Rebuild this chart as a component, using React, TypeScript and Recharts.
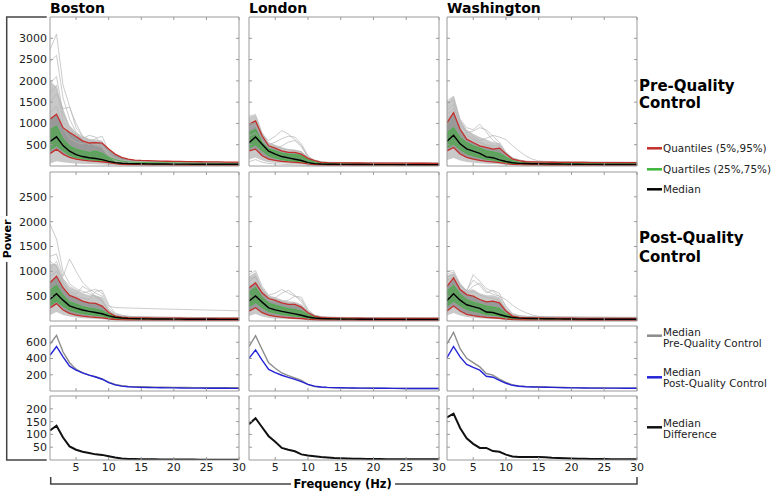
import React from "react";
import { ComposedChart, Area, Line, XAxis, YAxis } from "recharts";

// frequency bins (Hz)
const freqs = [1, 2, 3, 4, 5, 6, 7, 8, 9, 10, 11, 12, 13, 14, 15, 16, 17, 18, 19, 20, 21, 22, 23, 24, 25, 26, 27, 28, 29, 30];
const xTicks = [5, 10, 15, 20, 25, 30];
const cities = ["Boston", "London", "Washington"];

// ---- Boston, pre-QC
const bosPreMed = [575, 685, 480, 348, 268, 222, 195, 175, 150, 108, 80, 64, 57, 54, 52, 50, 48, 47, 46, 45, 44, 43, 42, 42, 41, 41, 40, 40, 40, 40];
const bosPreQ95 = [1100, 1215, 900, 786, 693, 590, 540, 550, 535, 400, 280, 205, 160, 140, 130, 125, 120, 115, 112, 110, 108, 105, 102, 100, 98, 96, 95, 93, 92, 90];
const bosPreQ05 = [290, 395, 280, 200, 160, 140, 120, 110, 100, 78, 55, 40, 35, 32, 30, 28, 27, 26, 25, 24, 24, 23, 22, 22, 21, 21, 20, 20, 20, 20];
const bosPreQ75 = [850, 940, 640, 475, 395, 355, 320, 350, 300, 210, 150, 115, 95, 88, 84, 80, 78, 76, 74, 72, 70, 69, 68, 67, 66, 65, 64, 63, 62, 62];
const bosPreQ25 = [380, 480, 360, 250, 200, 170, 150, 135, 120, 85, 62, 48, 44, 42, 40, 38, 37, 36, 35, 34, 33, 33, 32, 32, 31, 31, 30, 30, 30, 30];
const bosPreHi = [2000, 1850, 1350, 950, 800, 700, 640, 620, 600, 330, 190, 150, 135, 125, 120, 115, 112, 110, 108, 106, 104, 102, 100, 99, 98, 97, 96, 95, 94, 93];
const bosPreLo = [60, 110, 90, 70, 60, 50, 45, 40, 35, 25, 18, 14, 12, 11, 10, 10, 9, 9, 8, 8, 8, 7, 7, 7, 7, 6, 6, 6, 6, 6];
const bosPreTraces = [
  [2730, 3100, 1900, 1400, 900, 700, 600, 520, 480, 250, 140, 110, 95, 90, 88, 85, 82, 80, 78, 76, 75, 74, 72, 71, 70, 70, 69, 68, 68, 67],
  [2450, 2600, 1600, 1100, 800, 620, 560, 500, 520, 300, 150, 120, 100, 92, 88, 85, 83, 80, 78, 76, 74, 73, 72, 70, 70, 69, 68, 67, 66, 66],
  [1500, 1700, 1350, 1380, 1000, 700, 550, 480, 450, 260, 130, 100, 90, 85, 80, 78, 76, 74, 72, 70, 69, 68, 67, 66, 65, 64, 63, 62, 62, 61],
  [1950, 2100, 1250, 900, 700, 650, 720, 680, 500, 280, 160, 130, 115, 110, 105, 100, 98, 96, 94, 92, 90, 88, 86, 85, 84, 83, 82, 81, 80, 80],
  [1700, 1900, 1050, 800, 750, 600, 500, 650, 700, 350, 200, 140, 120, 110, 105, 100, 97, 95, 93, 91, 90, 88, 87, 86, 85, 84, 83, 82, 81, 80],
  [1250, 1400, 900, 650, 560, 520, 600, 560, 420, 220, 120, 90, 80, 75, 72, 70, 68, 66, 64, 63, 62, 61, 60, 59, 58, 58, 57, 56, 56, 55],
];

// ---- Boston, post-QC
const bosPostMed = [440, 548, 420, 306, 258, 222, 195, 172, 145, 102, 75, 60, 52, 48, 45, 43, 41, 40, 39, 38, 37, 36, 35, 35, 34, 34, 33, 33, 32, 32];
const bosPostQ95 = [770, 900, 670, 515, 465, 400, 365, 355, 300, 170, 100, 78, 68, 64, 62, 60, 59, 58, 57, 56, 55, 54, 54, 53, 53, 52, 52, 51, 51, 50];
const bosPostQ05 = [265, 350, 220, 155, 120, 100, 85, 75, 65, 45, 30, 23, 20, 19, 18, 18, 17, 17, 16, 16, 16, 15, 15, 15, 15, 15, 14, 14, 14, 14];
const bosPostQ75 = [620, 720, 520, 390, 340, 290, 260, 240, 210, 140, 95, 72, 62, 58, 55, 53, 51, 50, 49, 48, 47, 46, 45, 45, 44, 44, 43, 43, 42, 42];
const bosPostQ25 = [310, 400, 300, 220, 180, 152, 132, 116, 100, 70, 50, 40, 36, 34, 32, 31, 30, 29, 28, 28, 27, 27, 26, 26, 25, 25, 25, 24, 24, 24];
const bosPostHi = [1150, 1150, 850, 680, 620, 560, 520, 520, 480, 230, 130, 100, 90, 85, 82, 80, 78, 76, 75, 74, 73, 72, 71, 70, 70, 69, 68, 68, 67, 67];
const bosPostLo = [120, 180, 120, 90, 70, 55, 48, 42, 36, 25, 18, 14, 12, 11, 10, 10, 9, 9, 9, 8, 8, 8, 8, 7, 7, 7, 7, 7, 7, 7];
const bosPostTraces = [
  [1950, 1650, 1000, 750, 650, 600, 550, 500, 420, 220, 120, 95, 85, 80, 78, 76, 74, 72, 71, 70, 69, 68, 67, 66, 65, 65, 64, 63, 63, 62],
  [1300, 1350, 900, 1250, 1000, 780, 650, 560, 500, 260, 140, 110, 95, 90, 86, 83, 80, 78, 76, 75, 74, 73, 72, 71, 70, 70, 69, 68, 68, 67],
  [1050, 1200, 850, 700, 620, 560, 600, 640, 560, 300, 270, 265, 262, 258, 255, 250, 247, 244, 240, 237, 234, 230, 227, 224, 221, 218, 215, 212, 208, 205],
  [900, 1000, 720, 600, 540, 700, 620, 480, 400, 200, 110, 85, 75, 70, 68, 66, 64, 62, 61, 60, 59, 58, 57, 56, 56, 55, 54, 54, 53, 53],
  [1200, 1100, 780, 560, 500, 460, 430, 600, 620, 330, 160, 115, 95, 88, 84, 80, 78, 76, 74, 72, 71, 70, 69, 68, 67, 66, 66, 65, 64, 64],
];

// ---- London, pre-QC
const lonPreMed = [547, 681, 510, 348, 280, 222, 190, 160, 130, 78, 56, 46, 42, 40, 38, 37, 36, 35, 34, 33, 33, 32, 32, 31, 31, 31, 30, 30, 30, 30];
const lonPreQ95 = [980, 1060, 710, 475, 420, 357, 320, 320, 280, 180, 124, 86, 78, 75, 73, 72, 71, 70, 69, 68, 68, 67, 67, 66, 66, 65, 65, 65, 64, 64];
const lonPreQ05 = [357, 397, 241, 163, 130, 110, 95, 85, 75, 50, 35, 27, 24, 23, 22, 22, 21, 21, 20, 20, 20, 20, 19, 19, 19, 19, 19, 18, 18, 18];
const lonPreQ75 = [786, 863, 553, 397, 357, 300, 280, 270, 250, 150, 100, 70, 60, 56, 54, 52, 51, 50, 49, 48, 48, 47, 47, 46, 46, 45, 45, 45, 45, 45];
const lonPreQ25 = [420, 500, 360, 240, 190, 150, 125, 110, 95, 60, 45, 35, 32, 30, 29, 28, 27, 26, 26, 25, 25, 24, 24, 24, 23, 23, 23, 22, 22, 22];
const lonPreHi = [1150, 1200, 800, 560, 500, 440, 400, 390, 350, 220, 150, 110, 95, 90, 88, 86, 85, 84, 83, 82, 81, 80, 80, 79, 78, 78, 77, 77, 76, 76];
const lonPreLo = [150, 200, 130, 90, 75, 62, 52, 46, 40, 28, 20, 16, 14, 13, 12, 12, 11, 11, 11, 10, 10, 10, 10, 10, 9, 9, 9, 9, 9, 9];
const lonPreTraces = [
  [900, 1000, 750, 600, 700, 830, 750, 620, 480, 220, 120, 90, 80, 76, 74, 72, 70, 69, 68, 67, 66, 65, 64, 64, 63, 63, 62, 62, 61, 61],
  [850, 950, 680, 500, 560, 640, 700, 680, 520, 240, 130, 95, 82, 78, 75, 73, 71, 70, 69, 68, 67, 66, 65, 64, 64, 63, 63, 62, 62, 61],
  [1170, 1210, 760, 520, 460, 420, 380, 360, 330, 200, 130, 100, 90, 86, 84, 82, 80, 79, 78, 77, 76, 75, 74, 74, 73, 72, 72, 71, 71, 70],
  [700, 780, 600, 450, 420, 470, 560, 600, 450, 210, 110, 80, 70, 66, 63, 61, 60, 59, 58, 57, 56, 55, 55, 54, 54, 53, 53, 52, 52, 52],
  [100, 150, 90, 60, 50, 40, 35, 30, 28, 20, 14, 12, 10, 10, 9, 9, 9, 8, 8, 8, 8, 8, 7, 7, 7, 7, 7, 7, 7, 7],
];

// ---- London, post-QC
const lonPostMed = [402, 506, 380, 265, 225, 194, 168, 144, 115, 81, 60, 50, 45, 42, 40, 38, 37, 36, 35, 34, 33, 33, 32, 32, 31, 31, 30, 30, 30, 30];
const lonPostQ95 = [667, 767, 567, 453, 413, 367, 333, 333, 280, 167, 100, 70, 62, 60, 58, 57, 56, 55, 54, 54, 53, 53, 52, 52, 51, 51, 51, 50, 50, 50];
const lonPostQ05 = [200, 267, 167, 120, 95, 80, 65, 55, 50, 35, 25, 20, 18, 17, 17, 16, 16, 15, 15, 15, 15, 14, 14, 14, 14, 14, 14, 13, 13, 13];
const lonPostQ75 = [580, 680, 480, 360, 320, 280, 250, 230, 200, 130, 80, 60, 55, 52, 50, 49, 48, 47, 46, 45, 44, 44, 43, 43, 42, 42, 41, 41, 41, 40];
const lonPostQ25 = [290, 370, 270, 190, 160, 135, 115, 100, 85, 55, 40, 35, 32, 30, 29, 28, 27, 26, 26, 25, 24, 24, 23, 23, 23, 22, 22, 22, 22, 22];
const lonPostHi = [900, 980, 680, 520, 480, 430, 400, 390, 330, 200, 120, 90, 80, 77, 75, 73, 72, 71, 70, 69, 68, 68, 67, 67, 66, 66, 65, 65, 65, 64];
const lonPostLo = [100, 140, 90, 65, 52, 44, 38, 33, 30, 22, 16, 13, 12, 11, 11, 10, 10, 10, 9, 9, 9, 9, 9, 8, 8, 8, 8, 8, 8, 8];
const lonPostTraces = [
  [935, 1015, 700, 520, 560, 635, 560, 500, 480, 230, 120, 90, 80, 76, 74, 72, 70, 69, 68, 67, 66, 65, 65, 64, 64, 63, 63, 62, 62, 62],
  [780, 900, 620, 450, 470, 560, 620, 520, 380, 190, 110, 85, 75, 72, 70, 68, 66, 65, 64, 63, 62, 62, 61, 60, 60, 59, 59, 58, 58, 58],
  [700, 800, 560, 420, 400, 380, 420, 500, 430, 200, 105, 80, 72, 68, 66, 64, 63, 62, 61, 60, 60, 59, 58, 58, 57, 57, 56, 56, 56, 55],
  [860, 880, 640, 480, 440, 400, 360, 350, 310, 180, 110, 82, 72, 70, 68, 66, 65, 64, 63, 62, 62, 61, 60, 60, 59, 59, 58, 58, 58, 57],
];

// ---- Washington, pre-QC
const wasPreMed = [581, 722, 520, 402, 350, 297, 215, 195, 145, 105, 75, 62, 57, 54, 52, 50, 48, 46, 44, 42, 40, 39, 38, 37, 37, 36, 36, 35, 35, 35];
const wasPreQ95 = [1020, 1253, 863, 630, 553, 474, 436, 397, 420, 280, 163, 124, 100, 95, 92, 90, 88, 86, 85, 84, 83, 82, 81, 81, 80, 80, 80, 80, 80, 80];
const wasPreQ05 = [357, 436, 280, 203, 160, 130, 110, 95, 80, 55, 40, 30, 27, 26, 25, 24, 23, 23, 22, 22, 21, 21, 21, 20, 20, 20, 20, 20, 20, 20];
const wasPreQ75 = [786, 902, 669, 553, 474, 420, 357, 330, 300, 210, 130, 90, 75, 72, 70, 68, 66, 64, 62, 60, 59, 58, 57, 56, 56, 55, 55, 55, 55, 55];
const wasPreQ25 = [430, 520, 390, 290, 240, 200, 160, 140, 110, 75, 55, 45, 42, 40, 38, 37, 36, 35, 34, 33, 32, 32, 31, 31, 30, 30, 30, 30, 30, 30];
const wasPreHi = [1500, 1640, 1100, 860, 760, 680, 620, 560, 540, 330, 200, 150, 120, 115, 110, 106, 103, 100, 98, 96, 95, 94, 93, 92, 91, 90, 90, 89, 89, 88];
const wasPreLo = [140, 190, 130, 95, 78, 64, 55, 48, 40, 28, 20, 16, 14, 13, 13, 12, 12, 11, 11, 11, 10, 10, 10, 10, 10, 10, 9, 9, 9, 9];
const wasPreTraces = [
  [1530, 1640, 1100, 900, 850, 980, 800, 600, 500, 300, 180, 130, 110, 105, 100, 97, 95, 93, 91, 90, 89, 88, 87, 86, 85, 85, 84, 84, 83, 83],
  [1300, 1450, 950, 780, 820, 900, 850, 700, 560, 320, 190, 140, 115, 108, 104, 100, 98, 96, 94, 92, 91, 90, 89, 88, 87, 87, 86, 86, 85, 85],
  [1200, 1350, 1000, 820, 700, 600, 650, 720, 680, 620, 480, 350, 240, 160, 120, 108, 102, 98, 96, 94, 93, 92, 91, 90, 89, 88, 88, 87, 87, 86],
  [1100, 1250, 880, 700, 650, 560, 500, 480, 460, 260, 150, 110, 95, 90, 88, 86, 84, 82, 80, 79, 78, 77, 76, 75, 75, 74, 74, 73, 73, 72],
  [1450, 1550, 1050, 760, 620, 540, 480, 430, 400, 240, 140, 105, 92, 88, 85, 83, 81, 79, 78, 77, 76, 75, 74, 74, 73, 73, 72, 72, 71, 71],
];

// ---- Washington, post-QC
const wasPostMed = [410, 548, 420, 327, 290, 256, 181, 170, 131, 95, 70, 58, 52, 50, 48, 46, 44, 42, 40, 39, 38, 37, 36, 36, 35, 35, 35, 34, 34, 34];
const wasPostQ95 = [700, 867, 633, 533, 500, 433, 387, 400, 367, 200, 100, 75, 65, 62, 60, 58, 57, 56, 55, 55, 54, 54, 53, 53, 53, 52, 52, 52, 52, 52];
const wasPostQ05 = [200, 300, 200, 133, 110, 90, 75, 65, 55, 40, 28, 22, 20, 19, 18, 17, 17, 16, 16, 16, 15, 15, 15, 15, 15, 15, 15, 15, 15, 15];
const wasPostQ75 = [600, 720, 540, 430, 380, 340, 300, 280, 250, 150, 90, 70, 60, 58, 56, 54, 52, 50, 49, 48, 47, 46, 45, 45, 45, 45, 45, 45, 45, 45];
const wasPostQ25 = [300, 400, 310, 230, 200, 170, 130, 120, 100, 65, 48, 40, 38, 36, 35, 33, 32, 31, 30, 29, 28, 28, 27, 27, 26, 26, 26, 25, 25, 25];
const wasPostHi = [920, 960, 760, 620, 640, 560, 520, 520, 480, 260, 130, 95, 85, 82, 80, 78, 76, 75, 74, 73, 72, 72, 71, 71, 70, 70, 70, 69, 69, 69];
const wasPostLo = [110, 160, 110, 80, 65, 54, 46, 40, 34, 24, 17, 14, 12, 12, 11, 11, 10, 10, 10, 10, 10, 9, 9, 9, 9, 9, 9, 9, 9, 9];
const wasPostTraces = [
  [1000, 1015, 750, 600, 934, 800, 650, 600, 500, 300, 150, 110, 95, 90, 87, 85, 83, 81, 80, 79, 78, 77, 76, 75, 75, 74, 74, 73, 73, 73],
  [950, 980, 700, 620, 820, 720, 560, 620, 560, 280, 140, 105, 92, 88, 85, 83, 81, 79, 78, 77, 76, 75, 74, 74, 73, 73, 72, 72, 72, 71],
  [880, 940, 720, 580, 700, 760, 600, 540, 500, 430, 320, 230, 170, 120, 95, 88, 84, 82, 80, 78, 77, 76, 75, 74, 74, 73, 73, 72, 72, 71],
  [820, 900, 650, 560, 600, 520, 480, 450, 420, 230, 120, 90, 80, 76, 74, 72, 70, 69, 68, 67, 66, 66, 65, 65, 64, 64, 63, 63, 63, 62],
];

// ---- median difference (pre - post)
const bosDiff = [115, 134, 88, 53, 40, 32, 27, 22, 20, 15, 10, 6, 4, 4, 3, 3, 3, 2, 2, 2, 2, 2, 2, 1, 1, 1, 1, 1, 1, 1];
const lonDiff = [140, 163, 128, 93, 71, 47, 40, 34, 22, 18, 15, 12, 10, 8, 7, 6, 5, 5, 4, 4, 4, 3, 3, 3, 3, 3, 3, 3, 3, 3];
const wasDiff = [166, 181, 125, 85, 63, 47, 47, 35, 32, 21, 14, 12, 12, 12, 12, 11, 9, 8, 7, 6, 5, 5, 4, 4, 4, 3, 3, 3, 3, 3];

const pre = [
  { med: bosPreMed, q05: bosPreQ05, q95: bosPreQ95, q25: bosPreQ25, q75: bosPreQ75, hi: bosPreHi, lo: bosPreLo, traces: bosPreTraces },
  { med: lonPreMed, q05: lonPreQ05, q95: lonPreQ95, q25: lonPreQ25, q75: lonPreQ75, hi: lonPreHi, lo: lonPreLo, traces: lonPreTraces },
  { med: wasPreMed, q05: wasPreQ05, q95: wasPreQ95, q25: wasPreQ25, q75: wasPreQ75, hi: wasPreHi, lo: wasPreLo, traces: wasPreTraces },
];
const post = [
  { med: bosPostMed, q05: bosPostQ05, q95: bosPostQ95, q25: bosPostQ25, q75: bosPostQ75, hi: bosPostHi, lo: bosPostLo, traces: bosPostTraces },
  { med: lonPostMed, q05: lonPostQ05, q95: lonPostQ95, q25: lonPostQ25, q75: lonPostQ75, hi: lonPostHi, lo: lonPostLo, traces: lonPostTraces },
  { med: wasPostMed, q05: wasPostQ05, q95: wasPostQ95, q25: wasPostQ25, q75: wasPostQ75, hi: wasPostHi, lo: wasPostLo, traces: wasPostTraces },
];
const diffs = [bosDiff, lonDiff, wasDiff];

const colX = [50, 249, 447];
const colW = [189, 190, 190];
const rowsGeo = [
  { y: 17, h: 149, max: 3500, ticks: [500, 1000, 1500, 2000, 2500, 3000] },
  { y: 172, h: 149, max: 3000, ticks: [500, 1000, 1500, 2000, 2500] },
  { y: 326, h: 65, max: 800, ticks: [200, 400, 600] },
  { y: 396, h: 64, max: 250, ticks: [50, 100, 150, 200] },
];

const RED = "#c3302c";
const GREEN = "#3cb53c";
const BOX = "#9a9a9a";
const blank = () => "";

const statRows = (s: any) =>
  freqs.map((f, i) => {
    const r: any = {
      f,
      env: [s.lo[i], s.hi[i]],
      outer: [s.q05[i], s.q95[i]],
      inner: [s.q25[i], s.q75[i]],
      q05: s.q05[i],
      q95: s.q95[i],
      q25: s.q25[i],
      q75: s.q75[i],
      med: s.med[i],
    };
    s.traces.forEach((t: number[], k: number) => {
      r["t" + k] = t[i];
    });
    return r;
  });

function Panel({ col, row, data, children }: any) {
  const g = rowsGeo[row];
  const showY = col === 0;
  const showX = row === 3;
  const padL = showY ? 40 : 1;
  const padB = showX ? 20 : 1;
  const padR = showX ? 10 : 0; // room for the "30" label
  const w = colW[col];
  return (
    <div style={{ position: "absolute", left: colX[col] - padL, top: g.y - 1 }}>
      <ComposedChart width={padL + w + 1 + padR} height={1 + g.h + padB} data={data} margin={{ top: 0, right: padR, bottom: 0, left: 0 }}>
        <XAxis
          dataKey="f"
          type="number"
          domain={[1, 30]}
          ticks={xTicks}
          interval={0}
          allowDataOverflow
          height={padB}
          tickSize={-3}
          tickMargin={6}
          stroke={BOX}
          tick={{ fill: "#222", fontSize: 11 }}
          tickFormatter={showX ? undefined : blank}
        />
        <XAxis xAxisId="top" orientation="top" dataKey="f" type="number" domain={[1, 30]} ticks={xTicks} interval={0} allowDataOverflow height={1} tickSize={-3} stroke={BOX} tickFormatter={blank} />
        <YAxis
          type="number"
          domain={[0, g.max]}
          ticks={g.ticks}
          interval={0}
          allowDataOverflow
          width={padL}
          tickSize={-3}
          tickMargin={6}
          stroke={BOX}
          tick={{ fill: "#222", fontSize: 11 }}
          tickFormatter={showY ? undefined : blank}
        />
        <YAxis yAxisId="right" orientation="right" type="number" domain={[0, g.max]} ticks={g.ticks} interval={0} allowDataOverflow width={1} tickSize={-3} stroke={BOX} tickFormatter={blank} />
        {children}
      </ComposedChart>
    </div>
  );
}

function StatPanel({ col, row, s }: any) {
  const data = statRows(s);
  return (
    <Panel col={col} row={row} data={data}>
      <Area type="linear" dataKey="env" stroke="none" fill="#c9c9c9" fillOpacity={1} isAnimationActive={false} dot={false} activeDot={false} />
      {s.traces.map((_: any, k: number) => (
        <Line key={k} type="linear" dataKey={"t" + k} stroke="#b4b4b4" strokeWidth={0.7} dot={false} activeDot={false} isAnimationActive={false} />
      ))}
      <Area type="linear" dataKey="outer" stroke="none" fill="#999999" fillOpacity={1} isAnimationActive={false} dot={false} activeDot={false} />
      <Area type="linear" dataKey="inner" stroke="none" fill="#62a162" fillOpacity={1} isAnimationActive={false} dot={false} activeDot={false} />
      <Line type="linear" dataKey="q25" stroke={GREEN} strokeWidth={0.8} dot={false} activeDot={false} isAnimationActive={false} />
      <Line type="linear" dataKey="q75" stroke={GREEN} strokeWidth={0.8} dot={false} activeDot={false} isAnimationActive={false} />
      <Line type="linear" dataKey="q05" stroke={RED} strokeWidth={1.3} dot={false} activeDot={false} isAnimationActive={false} />
      <Line type="linear" dataKey="q95" stroke={RED} strokeWidth={1.3} dot={false} activeDot={false} isAnimationActive={false} />
      <Line type="linear" dataKey="med" stroke="#000" strokeWidth={1.4} dot={false} activeDot={false} isAnimationActive={false} />
    </Panel>
  );
}

function ComparePanel({ col }: any) {
  const data = freqs.map((f, i) => ({ f, preMed: pre[col].med[i], postMed: post[col].med[i] }));
  return (
    <Panel col={col} row={2} data={data}>
      <Line type="linear" dataKey="preMed" stroke="#8c8c8c" strokeWidth={1.4} dot={false} activeDot={false} isAnimationActive={false} />
      <Line type="linear" dataKey="postMed" stroke="#2424d6" strokeWidth={1.4} dot={false} activeDot={false} isAnimationActive={false} />
    </Panel>
  );
}

function DiffPanel({ col }: any) {
  const data = freqs.map((f, i) => ({ f, diff: diffs[col][i] }));
  return (
    <Panel col={col} row={3} data={data}>
      <Line type="linear" dataKey="diff" stroke="#111" strokeWidth={2} dot={false} activeDot={false} isAnimationActive={false} />
    </Panel>
  );
}

function Overlay() {
  const lt = { fontSize: 10.4, fill: "#222" };
  const bt = { fontSize: 15, fontWeight: "bold" as const, fill: "#000" };
  return (
    <svg width={778} height={491} style={{ position: "absolute", left: 0, top: 0, pointerEvents: "none" }}>
      {cities.map((c, i) => (
        <text key={c} x={colX[i]} y={12.5} fontSize={14} fontWeight="bold" fill="#000">
          {c}
        </text>
      ))}
      <text x={639} y={90.7} {...bt}>Pre-Quality</text>
      <text x={639} y={108.3} {...bt}>Control</text>
      <text x={639} y={243} {...bt}>Post-Quality</text>
      <text x={639} y={261.5} {...bt}>Control</text>

      <line x1={647} x2={662} y1={148.3} y2={148.3} stroke={RED} strokeWidth={2.5} />
      <text x={663} y={152} {...lt}>Quantiles (5%,95%)</text>
      <line x1={647} x2={662} y1={169.3} y2={169.3} stroke={GREEN} strokeWidth={2.5} />
      <text x={663} y={173} {...lt}>Quartiles (25%,75%)</text>
      <line x1={647} x2={662} y1={189.3} y2={189.3} stroke="#000" strokeWidth={2.5} />
      <text x={663} y={193} {...lt}>Median</text>

      <line x1={647} x2={662} y1={335.7} y2={335.7} stroke="#8c8c8c" strokeWidth={2.5} />
      <text x={663} y={336} {...lt}>Median</text>
      <text x={663} y={347} {...lt}>Pre-Quality Control</text>
      <line x1={647} x2={662} y1={377.3} y2={377.3} stroke="#2424d6" strokeWidth={2.5} />
      <text x={663} y={376} {...lt}>Median</text>
      <text x={663} y={387} {...lt}>Post-Quality Control</text>
      <line x1={647} x2={662} y1={427.3} y2={427.3} stroke="#111" strokeWidth={2.5} />
      <text x={663} y={426.5} {...lt}>Median</text>
      <text x={663} y={437.5} {...lt}>Difference</text>

      <path d="M46.7 17 H6.7 V216 M6.7 262 V460 H46.7" fill="none" stroke="#444" strokeWidth={1.5} />
      <text x={10.5} y={239} transform="rotate(-90 10.5 239)" textAnchor="middle" fontSize={11} fontWeight="bold" fill="#000">
        Power
      </text>
      <path d="M50.7 477 V484 H291 M395 484 H637 V477" fill="none" stroke="#444" strokeWidth={1.5} />
      <text x={342.7} y={488.3} textAnchor="middle" fontSize={11.5} fontWeight="bold" fill="#000">
        Frequency (Hz)
      </text>
    </svg>
  );
}

export default function App() {
  return (
    <div style={{ position: "absolute", left: 0, top: 0, width: 778, height: 491, background: "#fff", fontFamily: "'DejaVu Sans', sans-serif" }}>
      {[0, 1, 2].map((c) => (
        <React.Fragment key={c}>
          <StatPanel col={c} row={0} s={pre[c]} />
          <StatPanel col={c} row={1} s={post[c]} />
          <ComparePanel col={c} />
          <DiffPanel col={c} />
        </React.Fragment>
      ))}
      <Overlay />
    </div>
  );
}
